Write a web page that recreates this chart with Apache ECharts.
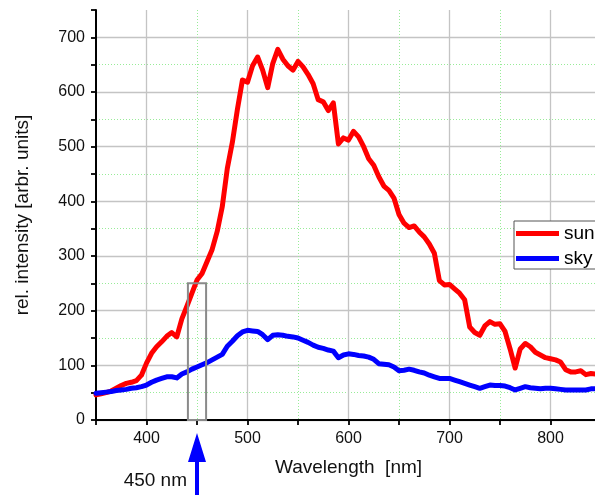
<!DOCTYPE html>
<html>
<head>
<meta charset="utf-8">
<script src="https://cdn.jsdelivr.net/npm/echarts@6/dist/echarts.min.js"></script>
<style>
  html, body { margin: 0; padding: 0; background: #fff; }
  #chart { width: 595px; height: 495px; }
</style>
</head>
<body>
<div id="chart"></div>
<script>
// Wavelength grid (nm)
const wavelength = [
  350, 355, 360, 365, 370, 375, 380, 385, 390, 395,
  400, 405, 410, 415, 420, 425, 430, 435, 440, 445,
  450, 455, 460, 465, 470, 475, 480, 485, 490, 495,
  500, 505, 510, 515, 520, 525, 530, 535, 540, 545,
  550, 555, 560, 565, 570, 575, 580, 585, 590, 595,
  600, 605, 610, 615, 620, 625, 630, 635, 640, 645,
  650, 655, 660, 665, 670, 675, 680, 685, 690, 695,
  700, 705, 710, 715, 720, 725, 730, 735, 740, 745,
  750, 755, 760, 765, 770, 775, 780, 785, 790, 795,
  800, 805, 810, 815, 820, 825, 830, 835, 840, 845
];

// Direct sunlight spectrum
const sunIntensity = [
  46, 48, 50, 53, 58, 63, 67, 69, 72, 82,
  104, 122, 134, 143, 153, 160, 152, 185, 208, 232,
  256, 268, 290, 312, 345, 390, 460, 508, 568, 622,
  618, 648, 664, 640, 608, 652, 678, 660, 648, 640,
  656, 646, 632, 615, 586, 582, 566, 580, 505, 516,
  512, 528, 518, 500, 478, 466, 445, 428, 420, 406,
  376, 360, 352, 355, 344, 335, 322, 305, 255, 247,
  248, 240, 232, 220, 170, 160, 155, 172, 180, 175,
  176, 162, 130, 95, 130, 140, 134, 124, 119, 114,
  112, 110, 106, 92, 88, 88, 90, 83, 85, 84
];

// Diffuse sky spectrum
const skyIntensity = [
  49, 50, 51, 52, 54, 55, 56, 58, 59, 61,
  64, 69, 73, 76, 79, 79, 77, 84, 88, 93,
  97, 101, 105, 110, 115, 120, 135, 144, 154, 161,
  164, 163, 162, 156, 147, 155, 156, 155, 153, 152,
  150, 146, 142, 137, 133, 131, 128, 126, 114, 119,
  121, 120, 118, 117, 115, 111, 103, 102, 101, 97,
  90, 91, 93, 91, 88, 86, 82, 79, 76, 76,
  76, 73, 70, 67, 64, 61, 58, 61, 64, 63,
  63, 62, 59, 55, 58, 61, 59, 58, 57, 58,
  58, 57, 56, 55, 55, 55, 55, 55, 57, 57
];

const seriesNames = ['sun', 'sky'];
const xLabelValues = [400, 500, 600, 700, 800];
const yLabelValues = [0, 100, 200, 300, 400, 500, 600, 700];

// Highlighted band around the 450 nm marker
const bandNm = [441, 459];
const bandTop = 250;
const markerNm = 450;
const markerText = '450 nm';

const FONT = '"Liberation Sans", Arial, sans-serif';
const GRID_GRAY = '#c4c4c4';
const GRID_GREEN = '#98ec98';
const CLEAR = 'rgba(0,0,0,0)';

const pairs = (ys) => wavelength.map((w, i) => [w, ys[i]]);

const chart = echarts.init(document.getElementById('chart'), null, { renderer: 'canvas' });

const option = {
  backgroundColor: '#fff',
  animation: false,
  grid: { left: 96, right: -6, top: 10, bottom: 75, containLabel: false, outerBoundsMode: 'none' },
  legend: {
    orient: 'vertical',
    left: 514,
    top: 221,
    padding: [3, 4, 1, 2],
    itemGap: 6,
    itemWidth: 43,
    itemHeight: 5,
    icon: 'rect',
    borderColor: '#555',
    borderWidth: 1,
    borderRadius: 0,
    backgroundColor: '#fff',
    textStyle: { fontFamily: FONT, fontSize: 19, color: '#000', lineHeight: 18 },
    data: seriesNames
  },
  xAxis: [
    {
      type: 'value', min: 350, max: 850, interval: 50,
      name: 'Wavelength  [nm]', nameLocation: 'middle', nameGap: 38,
      nameTextStyle: { fontFamily: FONT, fontSize: 19, color: '#111' },
      axisLine: { show: true, onZero: false, lineStyle: { color: '#000', width: 2 } },
      axisTick: { show: true, inside: false, length: 5, lineStyle: { color: '#000', width: 1.8 } },
      axisLabel: {
        fontFamily: FONT, fontSize: 16, color: '#111', margin: 11,
        formatter: (v) => (xLabelValues.indexOf(v) >= 0 ? String(v) : '')
      },
      splitLine: { show: true, lineStyle: { color: [CLEAR, GRID_GRAY], width: 1.3, type: 'solid' } }
    },
    {
      type: 'value', min: 350, max: 850, interval: 50,
      axisLine: { show: false }, axisTick: { show: false }, axisLabel: { show: false },
      splitLine: { show: true, lineStyle: { color: [GRID_GREEN, CLEAR], width: 1, type: [1, 2] } }
    }
  ],
  yAxis: [
    {
      type: 'value', min: 0, max: 750, interval: 50,
      name: 'rel. intensity [arbr. units]', nameLocation: 'middle', nameGap: 64,
      nameTextStyle: { fontFamily: FONT, fontSize: 19, color: '#111' },
      axisLine: { show: true, onZero: false, lineStyle: { color: '#000', width: 2 } },
      axisTick: { show: true, inside: false, length: 5, lineStyle: { color: '#000', width: 1.8 } },
      axisLabel: {
        fontFamily: FONT, fontSize: 16, color: '#111', margin: 11,
        formatter: (v) => (yLabelValues.indexOf(v) >= 0 ? String(v) : '')
      },
      splitLine: { show: true, showMaxLine: false, lineStyle: { color: [GRID_GRAY, CLEAR], width: 1.3, type: 'solid' } }
    },
    {
      type: 'value', min: 0, max: 750, interval: 50,
      axisLine: { show: false }, axisTick: { show: false }, axisLabel: { show: false },
      splitLine: { show: true, showMaxLine: false, lineStyle: { color: [CLEAR, GRID_GREEN], width: 1, type: [1, 2] } }
    }
  ],
  series: [
    {
      name: seriesNames[0], type: 'line', xAxisIndex: 0, yAxisIndex: 0,
      data: pairs(sunIntensity), showSymbol: false, symbol: 'none',
      lineStyle: { color: '#ff0000', width: 5, join: 'round', cap: 'round' },
      itemStyle: { color: '#ff0000' }, z: 3
    },
    {
      name: seriesNames[1], type: 'line', xAxisIndex: 0, yAxisIndex: 0,
      data: pairs(skyIntensity), showSymbol: false, symbol: 'none',
      lineStyle: { color: '#0000ff', width: 5, join: 'round', cap: 'round' },
      itemStyle: { color: '#0000ff' }, z: 4
    }
  ]
};

chart.setOption(option);

// Band outline, marker arrow and its label, placed through the axis scales
const toPx = (x, y) => chart.convertToPixel({ xAxisIndex: 0, yAxisIndex: 0 }, [x, y]);
const bandA = toPx(bandNm[0], bandTop);
const bandB = toPx(bandNm[1], 0);
const arrowX = toPx(markerNm, 0)[0];
const tipY = 433, headBaseY = 462, headHalf = 9, shaftHalf = 2, shaftEnd = 500;

chart.setOption({
  graphic: [
    {
      type: 'rect', z: 50,
      shape: { x: bandA[0], y: bandA[1], width: bandB[0] - bandA[0], height: bandB[1] - bandA[1] },
      style: { fill: null, stroke: '#8a8a8a', lineWidth: 2 }
    },
    {
      type: 'polygon', z: 50,
      shape: { points: [
        [arrowX, tipY], [arrowX + headHalf, headBaseY], [arrowX + shaftHalf, headBaseY],
        [arrowX + shaftHalf, shaftEnd], [arrowX - shaftHalf, shaftEnd],
        [arrowX - shaftHalf, headBaseY], [arrowX - headHalf, headBaseY]
      ] },
      style: { fill: '#0000ff' }
    },
    {
      type: 'text', z: 50,
      x: arrowX - 10, y: 481,
      style: { text: markerText, fontFamily: FONT, fontSize: 19, fill: '#111', align: 'right', verticalAlign: 'middle' }
    }
  ]
});
</script>
</body>
</html>
